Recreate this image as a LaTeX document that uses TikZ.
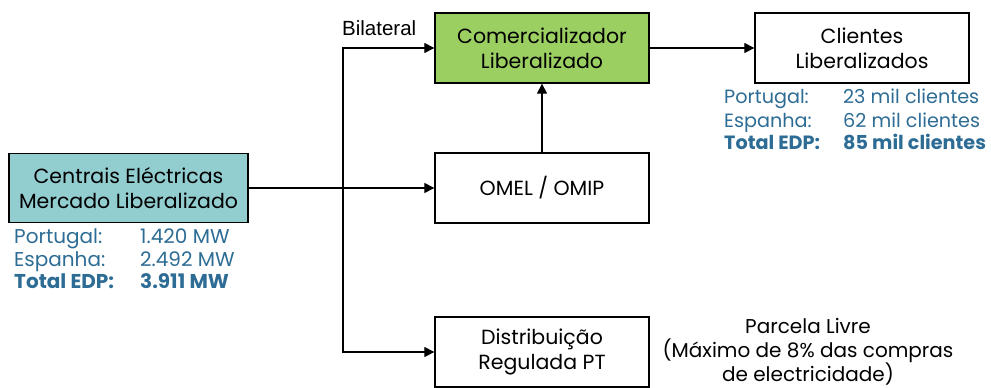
\documentclass[tikz,border=0pt]{standalone}
\usepackage{fontspec}
\setmainfont{Poppins}
\newfontfamily\arialfont{Liberation Sans}
\usetikzlibrary{arrows.meta, positioning}
\definecolor{boxteal}{RGB}{146,205,208}
\definecolor{boxgreen}{RGB}{155,207,98}
\definecolor{datablue}{RGB}{45,108,148}
\tikzset{
  block/.style={draw, line width=1.3pt, minimum width=214pt, minimum height=70pt, align=center, inner sep=0pt, font=\fontsize{20.5}{25}\selectfont},
  datatext/.style={anchor=base west, inner sep=0pt, text=datablue, font=\fontsize{20}{22}\selectfont},
  databold/.style={datatext, font=\bfseries\fontsize{20}{22}\selectfont},
  clitext/.style={datatext, font=\fontsize{19.2}{22}\selectfont},
  clibold/.style={datatext, font=\bfseries\fontsize{19.2}{22}\selectfont},
  link/.style={line width=1.1pt, -{Triangle[length=10pt,width=10pt]}}
}

\begin{document}
\begin{tikzpicture}[x=1pt, y=-1pt]
\useasboundingbox (0,0) rectangle (991,388);

% boxes
\node [block, fill=boxteal, minimum width=239pt, minimum height=69pt] (centrais) at (128.5,188) {Centrais Eléctricas\\Mercado Liberalizado};
\node [block, fill=boxgreen] (comerc) at (542,48) {Comercializador\\Liberalizado};
\node [block] (clientes) at (862,48) {Clientes\\Liberalizados};
\node [block] (omel) at (542,188) {OMEL / OMIP};
\node [block] (distrib) at (542,352) {Distribuição\\Regulada PT};

% junction on the vertical line
\coordinate (split) at (343,188);
\coordinate (top) at (343,48);
\coordinate (bottom) at (343,352);

\draw [line width=1.1pt] (centrais.east) -- (split);
\draw [link] (split) -- (omel.west);
\draw [link] (split) -- (top) -- (comerc.west);
\draw [link] (split) -- (bottom) -- (distrib.west);
\draw [link] (omel.north) -- (comerc.south);
\draw [link] (comerc.east) -- (clientes.west);

\node [anchor=base west, inner sep=0pt, font=\arialfont\fontsize{20.5}{22}\selectfont] (bilat) at (342,35) {Bilateral};

% figures under the boxes
\node [datatext] (ptlabel) at (14,243) {Portugal:};
\node [datatext] (eslabel) at (14,266) {Espanha:};
\node [databold] (totlabel) at (14,288) {Total EDP:};
\node [datatext] (ptmw) at (140,243) {1.420 MW};
\node [datatext] (esmw) at (140,266) {2.492 MW};
\node [databold] (totmw) at (140,288) {3.911 MW};

\node [clitext] (ptcli) at (724,103) {Portugal:};
\node [clitext] (escli) at (724,127) {Espanha:};
\node [clibold] (totcli) at (724,149) {Total EDP:};
\node [clitext] (ptnum) at (843,103) {23 mil clientes};
\node [clitext] (esnum) at (843,127) {62 mil clientes};
\node [clibold] (totnum) at (843,149) {85 mil clientes};

\node [align=center, inner sep=0pt, font=\fontsize{20}{24}\selectfont] (parcela) at (808,352) {Parcela Livre\\(Máximo de 8\% das compras\\de electricidade)};
\end{tikzpicture}
\end{document}
